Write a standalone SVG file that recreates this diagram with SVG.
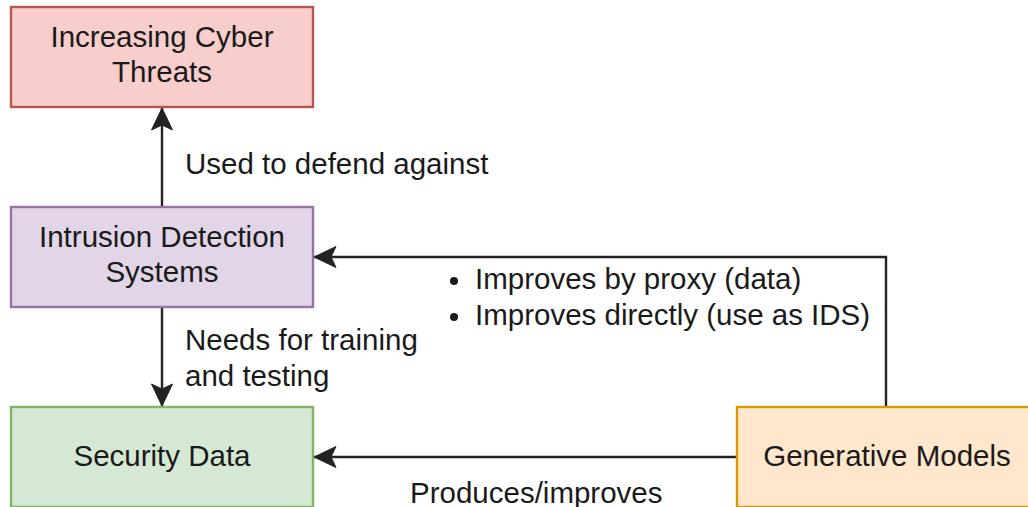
<svg xmlns="http://www.w3.org/2000/svg" width="1028" height="507" viewBox="0 0 1028 507">
<defs>
<style>
text{font-family:"Liberation Sans",Arial,sans-serif;font-size:29.5px;fill:#1a1a1a}
.c{text-anchor:middle}
.box{stroke-width:2.4}
.edge{fill:none;stroke:#222;stroke-width:2.4}
</style>
<marker id="arr" markerUnits="userSpaceOnUse" markerWidth="26" markerHeight="26" viewBox="-24 -13 26 26" refX="0" refY="0" orient="auto">
<path d="M0,0 L-22,-10.5 L-17,0 L-22,10.5 Z" fill="#222" stroke="#222" stroke-width="1" stroke-linejoin="miter"/>
</marker>
</defs>
<rect width="1028" height="507" fill="#fff"/>
<g id="connectors">
<path class="edge" d="M162,207 L162,108" marker-end="url(#arr)"/>
<path class="edge" d="M162,307 L162,406" marker-end="url(#arr)"/>
<path class="edge" d="M886,407 L886,257 L314,257" marker-end="url(#arr)"/>
<path class="edge" d="M737,457 L314,457" marker-end="url(#arr)"/>
</g>
<g id="label-defend"><text x="185" y="174">Used to defend against</text></g>
<g id="label-needs"><text x="185" y="350">Needs for training</text><text x="185" y="386">and testing</text></g>
<g id="label-improves">
<circle cx="454" cy="281" r="4" fill="#1a1a1a"/>
<text x="475" y="289">Improves by proxy (data)</text>
<circle cx="454" cy="317" r="4" fill="#1a1a1a"/>
<text x="475" y="325">Improves directly (use as IDS)</text>
</g>
<g id="label-produces"><text x="410" y="503">Produces/improves</text></g>
<g id="threats">
<rect class="box" x="11" y="7" width="302" height="100" fill="#f8cecc" stroke="#b85450"/>
<text class="c" x="162" y="47">Increasing Cyber</text>
<text class="c" x="162" y="82">Threats</text>
</g>
<g id="ids">
<rect class="box" x="11" y="207" width="302" height="100" fill="#e1d5e7" stroke="#9673a6"/>
<text class="c" x="162" y="247">Intrusion Detection</text>
<text class="c" x="162" y="282">Systems</text>
</g>
<g id="security-data">
<rect class="box" x="11" y="407" width="302" height="100" fill="#d5e8d4" stroke="#82b366"/>
<text class="c" x="162" y="466">Security Data</text>
</g>
<g id="generative-models">
<rect class="box" x="737" y="407" width="302" height="100" fill="#ffe6cc" stroke="#d79b00"/>
<text class="c" x="887" y="466">Generative Models</text>
</g>
</svg>
